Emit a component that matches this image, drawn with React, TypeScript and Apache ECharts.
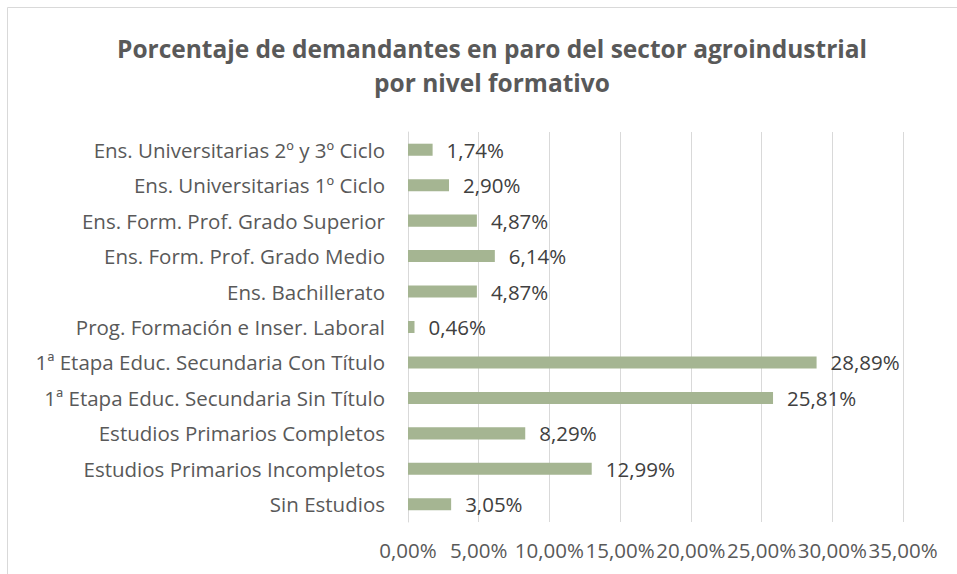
import React, { useEffect, useRef } from "react";
import * as echarts from "echarts";

const categories = [
  "Sin Estudios",
  "Estudios Primarios Incompletos",
  "Estudios Primarios Completos",
  "1ª Etapa Educ. Secundaria Sin Título",
  "1ª Etapa Educ. Secundaria Con Título",
  "Prog. Formación e Inser. Laboral",
  "Ens. Bachillerato",
  "Ens. Form. Prof. Grado Medio",
  "Ens. Form. Prof. Grado Superior",
  "Ens. Universitarias 1º Ciclo",
  "Ens. Universitarias 2º y 3º Ciclo",
];
const values = [3.05, 12.99, 8.29, 25.81, 28.89, 0.46, 4.87, 6.14, 4.87, 2.9, 1.74];
const axisMin = 0;
const axisMax = 35;
const axisStep = 5;

const fmt = (v: number) => v.toFixed(2).replace(".", ",") + "%";
const FONT = "Open Sans";

export default function App() {
  const ref = useRef<HTMLDivElement>(null);
  useEffect(() => {
    if (!ref.current) return;
    const chart = echarts.init(ref.current, undefined, { renderer: "svg" });
    chart.setOption({
      animation: false,
      backgroundColor: "#ffffff",
      title: {
        text: "Porcentaje de demandantes en paro del sector agroindustrial\npor nivel formativo",
        left: 487,
        textAlign: "center",
        top: 26,
        textStyle: {
          fontFamily: FONT,
          fontSize: 24.5,
          fontWeight: "bold",
          color: "#595959",
          lineHeight: 34,
        },
      },
      graphic: [
        {
          type: "rect",
          shape: { x: 7.5, y: 7.5, width: 1000, height: 700 },
          style: { fill: "none", stroke: "#d9d9d9", lineWidth: 1 },
          silent: true,
        },
      ],
      grid: { left: 408, right: 54, top: 132, bottom: 52, containLabel: false },
      xAxis: {
        type: "value",
        min: axisMin,
        max: axisMax,
        interval: axisStep,
        axisLine: { show: false },
        axisTick: { show: false },
        splitLine: { show: true, lineStyle: { color: "#d9d9d9", width: 1 } },
        axisLabel: {
          formatter: (v: number) => fmt(v),
          fontFamily: FONT,
          fontSize: 20.5,
          color: "#595959",
          margin: 17,
          hideOverlap: false,
        },
      },
      yAxis: {
        type: "category",
        data: categories,
        axisLine: { show: true, lineStyle: { color: "#d9d9d9" } },
        axisTick: { show: false },
        axisLabel: {
          fontFamily: FONT,
          fontSize: 20.5,
          color: "#595959",
          margin: 23,
        },
      },
      series: [
        {
          type: "bar",
          data: values,
          barWidth: "34%",
          itemStyle: { color: "#a5b592" },
          label: {
            show: true,
            position: "right",
            distance: 14,
            formatter: (p: any) => fmt(p.value),
            fontFamily: FONT,
            fontSize: 20.5,
            color: "#404040",
          },
        },
      ],
    });
    return () => chart.dispose();
  }, []);
  return (
    <div
      ref={ref}
      style={{ position: "fixed", left: 0, top: 0, width: 957, height: 574 }}
    />
  );
}
